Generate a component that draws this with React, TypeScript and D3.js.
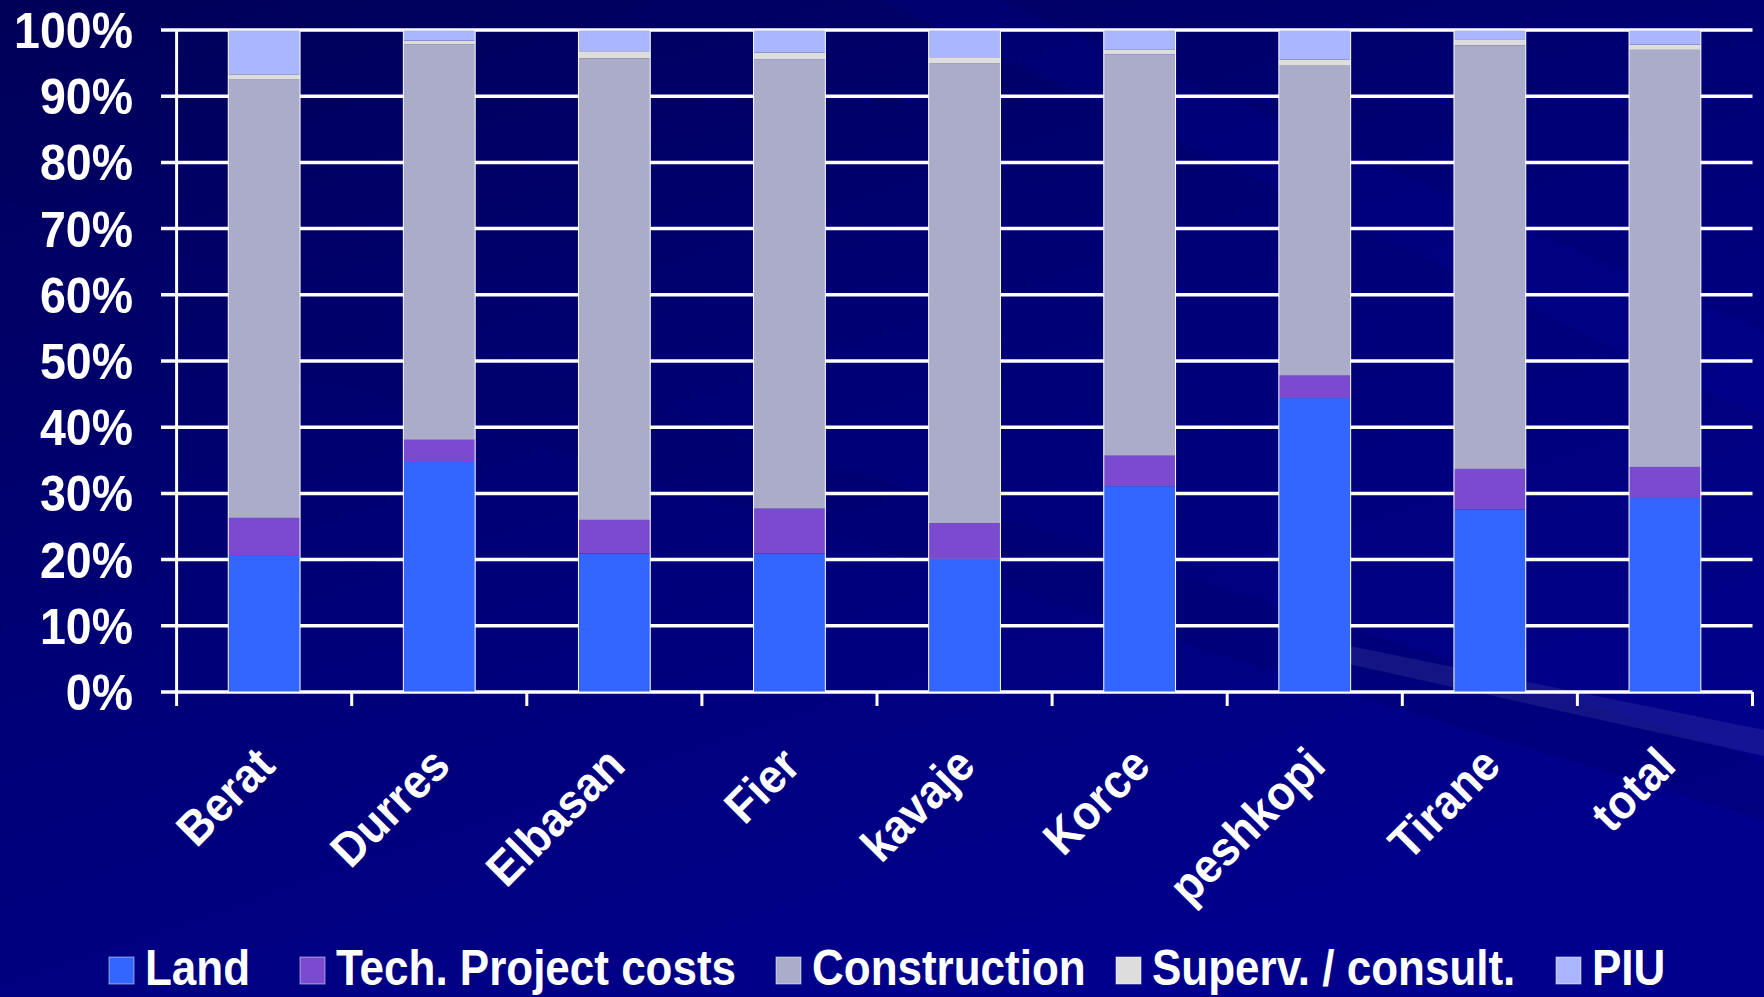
import React from "react";
import * as d3 from "d3";

const categories = ["Berat", "Durres", "Elbasan", "Fier", "kavaje", "Korce", "peshkopi", "Tirane", "total"];
const seriesNames = ["Land", "Tech. Project costs", "Construction", "Superv. / consult.", "PIU"];
const land = [20.7, 34.9, 20.9, 20.9, 20.1, 31.1, 44.4, 27.6, 29.3];
const tech = [5.6, 3.2, 5.1, 6.8, 5.4, 4.6, 3.4, 6.1, 4.7];
const construction = [66.2, 59.7, 69.7, 67.9, 69.5, 60.6, 46.8, 64.0, 63.0];
const superv = [0.8, 0.6, 1.1, 1.0, 0.9, 0.7, 0.9, 0.8, 0.8];
const piu = [6.7, 1.6, 3.2, 3.4, 4.1, 3.0, 4.5, 1.5, 2.2];
const yTickLabels = ["0%", "10%", "20%", "30%", "40%", "50%", "60%", "70%", "80%", "90%", "100%"];
const colors = ["#3366FF", "#7B4BCF", "#AAACC9", "#DDDDDD", "#AAB6FF"];

const W = 1764;
const H = 997;
const FONT = "'Liberation Sans', Arial, sans-serif";

export default function App() {
  const seriesArrays = [land, tech, construction, superv, piu];
  const rows = categories.map((c, i) => {
    const r: any = { cat: c };
    seriesNames.forEach((s, k) => (r[s] = seriesArrays[k][i]));
    return r;
  });
  const stack = d3.stack<any>().keys(seriesNames).offset(d3.stackOffsetExpand);
  const stacked = stack(rows);

  const x = d3
    .scaleBand<string>()
    .domain(categories)
    .range([176.6, 1752.5])
    .paddingInner(0.59)
    .paddingOuter(0.295);
  const y = d3.scaleLinear().domain([0, 1]).range([692, 30]);
  const step = x.step();
  const x0 = 176.6;
  const x1 = 1752.5;

  const legendX = [109, 300, 776, 1116, 1556];

  return (
    <svg
      width={W}
      height={H}
      style={{ position: "absolute", left: 0, top: 0, display: "block" }}
      fontFamily={FONT}
    >
      <defs>
        <linearGradient id="bg" x1="0" y1="0" x2="0.6" y2="1">
          <stop offset="0" stopColor="#000058" />
          <stop offset="0.5" stopColor="#000076" />
          <stop offset="1" stopColor="#00008C" />
        </linearGradient>
      </defs>
      <rect x={0} y={0} width={W} height={H} fill="url(#bg)" />
      {/* subtle diagonal background bands */}
      <polygon points="0,200 1764,760 1764,820 0,280" fill="#00006A" opacity={0.35} />
      <polygon points="1000,0 1764,330 1764,420 880,0" fill="#0000B0" opacity={0.15} />
      <polygon points="1330,642 1764,730 1764,756 1330,660" fill="#ffffff" opacity={0.08} />

      {/* gridlines */}
      {d3.range(0, 11).map((i) => (
        <line
          key={"g" + i}
          x1={161}
          x2={x1}
          y1={y(i / 10)}
          y2={y(i / 10)}
          stroke="#ffffff"
          strokeWidth={3.5}
        />
      ))}
      {/* y axis */}
      <line x1={x0} x2={x0} y1={y(1)} y2={y(0)} stroke="#ffffff" strokeWidth={3} />
      {/* x ticks */}
      {d3.range(0, categories.length + 1).map((i) => (
        <line
          key={"xt" + i}
          x1={x0 + i * step}
          x2={x0 + i * step}
          y1={y(0)}
          y2={y(0) + 14}
          stroke="#ffffff"
          strokeWidth={3}
        />
      ))}

      {/* bars */}
      {stacked.map((s, k) => (
        <g key={s.key} fill={colors[k]}>
          {s.map((d: any, i: number) => (
            <rect
              key={i}
              x={x(d.data.cat)}
              width={x.bandwidth()}
              y={y(d[1])}
              height={Math.max(0, y(d[0]) - y(d[1]))}
            />
          ))}
        </g>
      ))}
      {categories.map((c) => (
        <rect
          key={"o" + c}
          x={x(c)}
          width={x.bandwidth()}
          y={y(1)}
          height={y(0) - y(1)}
          fill="none"
          stroke="#ffffff"
          strokeWidth={1}
        />
      ))}

      {/* y labels */}
      {yTickLabels.map((t, i) => (
        <text
          key={"yl" + i}
          transform={`translate(133,${y(i / 10) + 18}) scale(0.93,1)`}
          textAnchor="end"
          fontSize={50}
          fontWeight="bold"
          fill="#ffffff"
        >
          {t}
        </text>
      ))}

      {/* x labels */}
      {categories.map((c) => (
        <text
          key={"xl" + c}
          transform={`translate(${(x(c) as number) + x.bandwidth() / 2 + 13},768) rotate(-45) scale(0.93,1)`}
          textAnchor="end"
          fontSize={48}
          fontWeight="bold"
          fill="#ffffff"
        >
          {c}
        </text>
      ))}

      {/* legend */}
      {seriesNames.map((s, k) => (
        <g key={"lg" + k}>
          <rect
            x={legendX[k]}
            y={957}
            width={25}
            height={27}
            fill={colors[k]}
            stroke="#ffffff"
            strokeOpacity={0.5}
            strokeWidth={1}
          />
          <text
            transform={`translate(${legendX[k] + 36},985) scale(0.88,1)`}
            fontSize={50}
            fontWeight="bold"
            fill="#ffffff"
          >
            {s}
          </text>
        </g>
      ))}
    </svg>
  );
}
